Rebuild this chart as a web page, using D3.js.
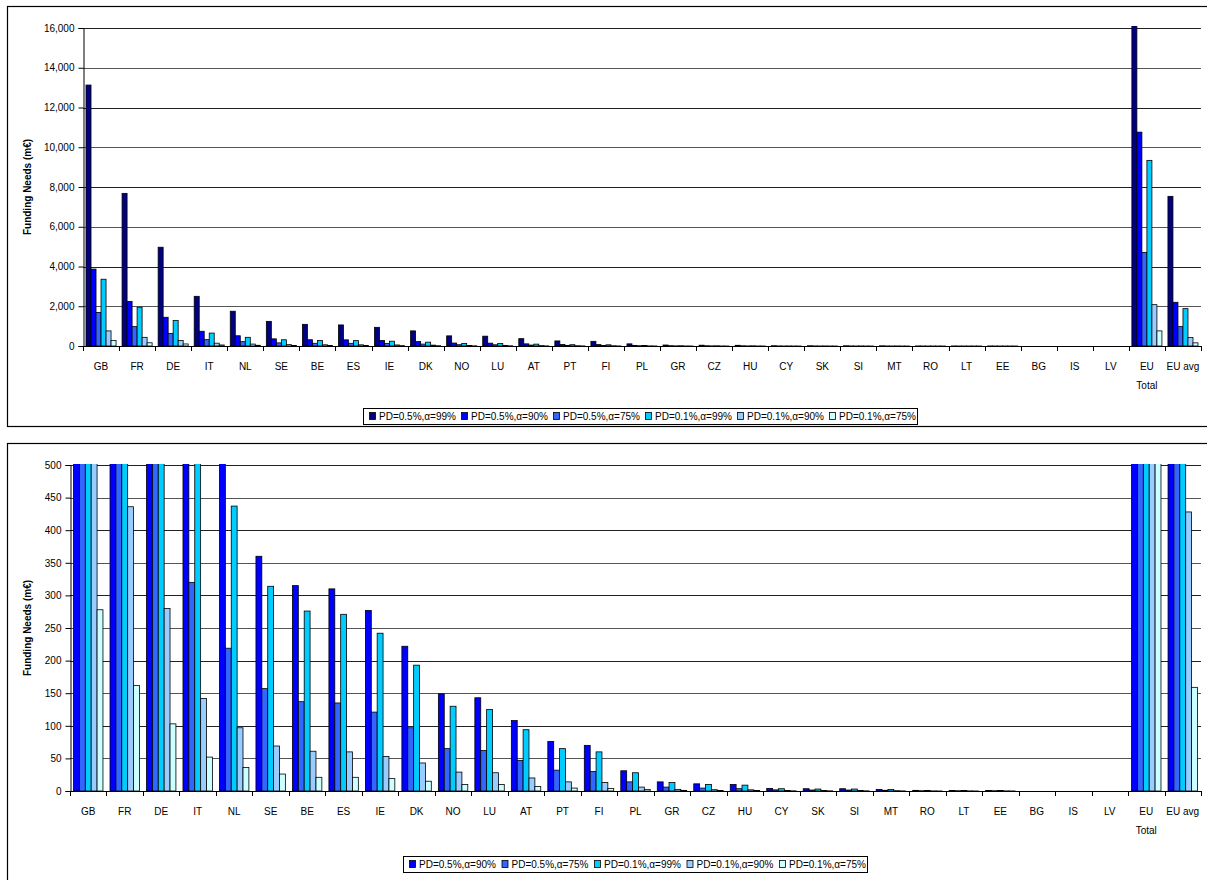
<!DOCTYPE html>
<html><head><meta charset="utf-8">
<script src="https://cdn.jsdelivr.net/npm/d3@7"></script>
<style>
body{margin:0;background:#fff;}
svg{display:block;font-family:"Liberation Sans",Arial,sans-serif;}
</style></head>
<body>
<svg id="c" width="1207" height="880"></svg>
<script>
const categories = ["GB","FR","DE","IT","NL","SE","BE","ES","IE","DK","NO","LU","AT","PT","FI","PL","GR","CZ","HU","CY","SK","SI","MT","RO","LT","EE","BG","IS","LV","EU Total","EU avg"];
const seriesNames = ["PD=0.5%,α=99%","PD=0.5%,α=90%","PD=0.5%,α=75%","PD=0.1%,α=99%","PD=0.1%,α=90%","PD=0.1%,α=75%"];
const seriesColors = ["#000080","#0000FF","#3366FF","#00CCFF","#99CCFF","#CCFFFF"];
const pd05a99 = [13130,7680,4970,2500,1750,1240,1090,1060,940,760,510,495,370,255,235,108,50,40,35,14,12,11,9,3,3,3,0,0,0,36600,7530];
const pd05a90 = [3870,2240,1445,740,515,360,315,310,277,222,149,143,108,76,70,31,14,11,10,4,3.5,3.5,2.5,1,0.9,0.9,0,0,0,10760,2200];
const pd05a75 = [1690,975,635,320,219,157,137,135,121,97,65,62,47,32,30,14,6,4.5,3.5,1.8,1.5,1.5,1.1,0.4,0.4,0.4,0,0,0,4710,975];
const pd01a99 = [3360,1950,1280,650,437,314,276,271,242,193,130,125,94,65,60,28,13,10,9,3.5,3,3,2.3,0.9,0.8,0.8,0,0,0,9340,1880];
const pd01a90 = [760,436,280,142,97,69,61,60,53,43,29,28,20,14,13,6,2.5,2,1.8,0.8,0.7,0.7,0.5,0.2,0.2,0.2,0,0,0,2080,428];
const pd01a75 = [278,162,103,52,36,26,21,21,19,15,10,10,7,4.5,4,2.5,1,0.8,0.7,0.3,0.3,0.3,0.2,0.1,0.1,0.1,0,0,0,760,159];
const topTicks = [0,2000,4000,6000,8000,10000,12000,14000,16000];
const bottomTicks = [0,50,100,150,200,250,300,350,400,450,500];
const allSeries = [pd05a99,pd05a90,pd05a75,pd01a99,pd01a90,pd01a75];

const svg = d3.select("#c");
const FONT = 10;

function drawChart(cfg){
  const g = svg.append("g");
  // panel border
  g.append("rect").attr("x",cfg.panel[0]).attr("y",cfg.panel[1]).attr("width",cfg.panel[2]).attr("height",cfg.panel[3])
    .attr("fill","#fff").attr("stroke","#000").attr("stroke-width",1.2);
  const x0 = d3.scaleBand().domain(categories).range([cfg.left,cfg.right]).paddingInner(0).paddingOuter(0);
  const x1 = d3.scaleBand().domain(cfg.series.map(String)).range([0,x0.bandwidth()]).paddingInner(0).paddingOuter(0.6);
  const y = d3.scaleLinear().domain([0,cfg.max]).range([cfg.bottom,cfg.top]);
  // gridlines
  g.append("g").selectAll("line").data(cfg.ticks.filter(t=>t>0)).join("line")
    .attr("x1",cfg.left).attr("x2",cfg.right).attr("y1",d=>Math.round(y(d))+0.5).attr("y2",d=>Math.round(y(d))+0.5)
    .attr("stroke",(d,i)=>i%2?"#222":"#555").attr("stroke-width",1);
  // clip
  const cid = "clip"+cfg.id;
  svg.append("defs").append("clipPath").attr("id",cid).append("rect")
    .attr("x",cfg.left).attr("y",cfg.top-cfg.overshoot).attr("width",cfg.right-cfg.left).attr("height",cfg.bottom-cfg.top+cfg.overshoot+1);
  const bars = g.append("g").attr("clip-path",`url(#${cid})`);
  cfg.series.forEach(si=>{
    const vals = allSeries[si];
    bars.append("g").selectAll("rect").data(categories.map((c,i)=>({c,v:vals[i]}))).join("rect")
      .attr("x",d=>x0(d.c)+x1(String(si)))
      .attr("width",x1.bandwidth())
      .attr("y",d=>Math.min(y(d.v), cfg.bottom))
      .attr("height",d=>Math.max(0,cfg.bottom-y(d.v)))
      .attr("fill",seriesColors[si]).attr("stroke","#000").attr("stroke-width",0.8);
  });
  // y axis
  const ya = d3.axisLeft(y).tickValues(cfg.ticks).tickSize(5).tickPadding(4).tickFormat(d3.format(","));
  const yg = g.append("g").attr("transform",`translate(${cfg.left+0.5},0)`).call(ya);
  yg.select(".domain").attr("stroke","#000");
  yg.selectAll(".tick line").attr("stroke","#000");
  yg.selectAll("text").attr("font-size",FONT).attr("fill","#000").attr("font-family","Liberation Sans, Arial, sans-serif");
  // x axis line + ticks at category boundaries
  g.append("line").attr("x1",cfg.left).attr("x2",cfg.right).attr("y1",cfg.bottom+0.5).attr("y2",cfg.bottom+0.5).attr("stroke","#000");
  const bounds = categories.map(c=>x0(c)).concat([cfg.right]);
  g.append("g").selectAll("line").data(bounds).join("line")
    .attr("x1",d=>Math.round(d)+0.5).attr("x2",d=>Math.round(d)+0.5).attr("y1",cfg.bottom).attr("y2",cfg.bottom+5).attr("stroke","#000");
  const lab = g.append("g").selectAll("text").data(categories).join("text")
    .attr("x",d=>x0(d)+x0.bandwidth()/2).attr("y",cfg.bottom+24)
    .attr("text-anchor","middle").attr("font-size",FONT).attr("fill","#000");
  lab.each(function(d){
    const parts = d==="EU Total"?["EU","Total"]:[d];
    const t=d3.select(this);
    parts.forEach((p,i)=>t.append("tspan").attr("x",x0(d)+x0.bandwidth()/2).attr("dy",i?19:0).text(p));
  });
  // axis title
  g.append("text").attr("transform",`translate(${cfg.titleX},${(cfg.top+cfg.bottom)/2}) rotate(-90)`)
    .attr("text-anchor","middle").attr("font-size",FONT).attr("font-weight","bold").attr("fill","#000")
    .text("Funding Needs (m€)");
  // legend
  const L = cfg.legend;
  const lg = g.append("g");
  lg.append("rect").attr("x",L.x+0.5).attr("y",L.y+0.5).attr("width",L.w).attr("height",L.h).attr("fill","#fff").attr("stroke","#000");
  cfg.series.forEach((si,k)=>{
    const ix = L.x+6+k*L.step;
    lg.append("rect").attr("x",ix+0.5).attr("y",L.y+L.h/2-3.5).attr("width",6).attr("height",7)
      .attr("fill",seriesColors[si]).attr("stroke","#000").attr("stroke-width",0.8);
    lg.append("text").attr("x",ix+10).attr("y",L.y+L.h/2+4).attr("font-size",FONT).attr("fill","#000").text(seriesNames[si]);
  });
}

drawChart({id:"t",panel:[7.5,6.5,1230,420],left:83,right:1201,top:28,bottom:346,max:16000,ticks:topTicks,
  series:[0,1,2,3,4,5],overshoot:2,titleX:31,legend:{x:363,y:408,w:554,h:16,step:92}});
drawChart({id:"b",panel:[7.5,443.5,1230,460],left:70,right:1201,top:465,bottom:791,max:500,ticks:bottomTicks,
  series:[1,2,3,4,5],overshoot:1,titleX:31,legend:{x:403,y:856,w:464,h:16,step:92.5}});
</script>
</body></html>
